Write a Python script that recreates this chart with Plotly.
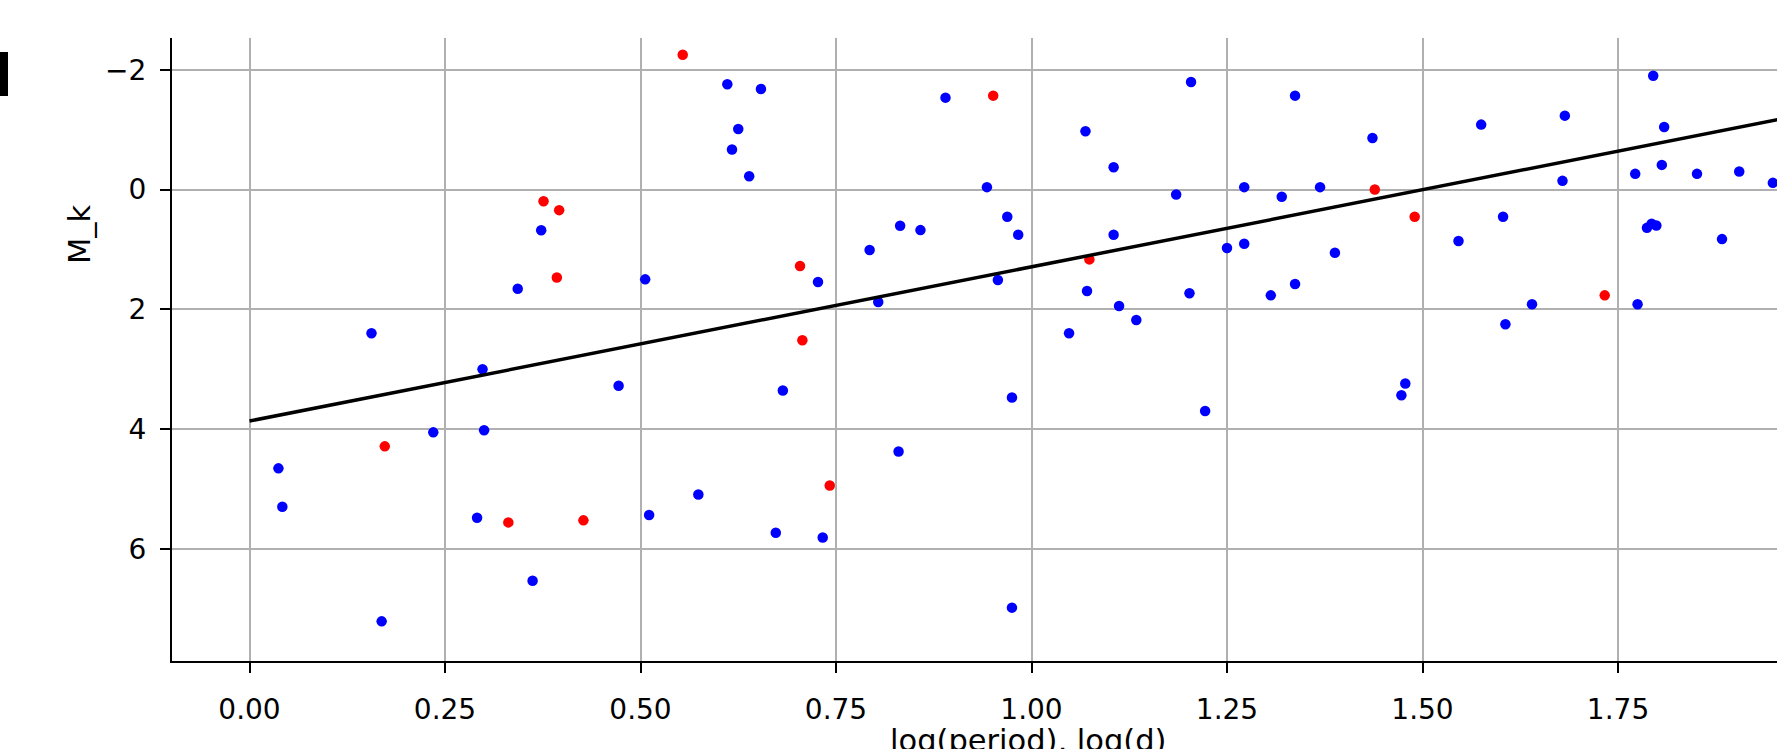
import plotly.graph_objects as go

# ---- data ----
blue_x = [0.156, 0.298, 0.373, 0.343, 0.037, 0.042, 0.235, 0.300, 0.291, 0.362, 0.169,
          0.611, 0.654, 0.625, 0.617, 0.639, 0.890, 1.069, 1.105, 1.185, 1.204, 0.943,
          0.969, 0.983, 0.832, 0.858, 0.793, 0.727, 0.506, 0.957, 1.105, 1.071, 1.112,
          1.134, 1.048, 0.804, 1.202,
          0.472, 0.682, 0.975, 0.830, 0.574, 0.511, 0.673, 0.733, 0.975,
          1.337, 1.436, 1.575, 1.682, 1.795, 1.809, 1.772, 1.806, 1.851, 1.905, 1.948,
          1.679, 1.272, 1.320, 1.369, 1.603, 1.787, 1.793, 1.799, 1.546, 1.883, 1.250,
          1.272, 1.388, 1.306, 1.337, 1.775, 1.640, 1.606,
          1.222, 1.478, 1.473]
blue_y = [2.40, 3.00, 0.679, 1.658, 4.655, 5.295, 4.054, 4.020, 5.479, 6.530, 7.209,
          -1.756, -1.678, -1.011, -0.667, -0.222, -1.533, -0.972, -0.372, 0.083, -1.794, -0.039,
          0.456, 0.756, 0.606, 0.678, 1.011, 1.544, 1.500, 1.511, 0.756, 1.694, 1.944,
          2.178, 2.400, 1.878, 1.733,
          3.277, 3.356, 3.473, 4.375, 5.092, 5.434, 5.731, 5.810, 6.980,
          -1.567, -0.861, -1.083, -1.233, -1.900, -1.044, -0.261, -0.411, -0.261, -0.300, -0.111,
          -0.144, -0.039, 0.122, -0.039, 0.456, 0.640, 0.570, 0.600, 0.861, 0.828, 0.978,
          0.906, 1.056, 1.767, 1.578, 1.917, 1.917, 2.250,
          3.697, 3.238, 3.434]

red_x = [0.376, 0.396, 0.393, 0.173, 0.331, 0.427, 0.554, 0.951, 0.704, 1.074,
         0.707, 0.742, 1.439, 1.490, 1.733]
red_y = [0.195, 0.345, 1.469, 4.288, 5.557, 5.523, -2.25, -1.567, 1.278, 1.167,
         2.517, 4.941, 0.000, 0.456, 1.767]

fit_intercept = 3.865
fit_slope = -2.574
fit_x = [0.0, 2.05]
fit_y = [fit_intercept + fit_slope * v for v in fit_x]

x_ticks = [0.0, 0.25, 0.5, 0.75, 1.0, 1.25, 1.5, 1.75]
y_ticks = [-2, 0, 2, 4, 6]
y_tick_text = ["\u22122", "0", "2", "4", "6"]

FONT = "DejaVu Sans"
FS = 28          # tick labels
FS_LABEL = 30.5  # axis titles

# body margin is removed below, so figure coords == page coords
W, H = 1777, 749
ML, MT = 172, 38
PLOT_RIGHT, PLOT_BOTTOM = 1777, 661
MR, MB = W - PLOT_RIGHT, H - PLOT_BOTTOM
PW = PLOT_RIGHT - ML
PH = PLOT_BOTTOM - MT


def px_x(p):
    return (p - ML) / PW


def px_y(p):
    return (PLOT_BOTTOM - p) / PH


fig = go.Figure()
fig.add_trace(go.Scatter(x=blue_x, y=blue_y, mode="markers",
                         marker=dict(color="#0000ff", size=10.5, line=dict(width=0)),
                         showlegend=False))
fig.add_trace(go.Scatter(x=red_x, y=red_y, mode="markers",
                         marker=dict(color="#ff0000", size=10.5, line=dict(width=0)),
                         showlegend=False))
fig.add_trace(go.Scatter(x=fit_x, y=fit_y, mode="lines",
                         line=dict(color="black", width=3.5),
                         showlegend=False))

fig.update_layout(
    width=W, height=H, autosize=False,
    margin=dict(l=ML, r=MR, t=MT, b=MB, pad=0),
    plot_bgcolor="white", paper_bgcolor="white",
    font=dict(family=FONT, size=FS, color="black"),
    xaxis=dict(range=[-0.0991, 1.9533], tickvals=x_ticks, tickformat=".2f",
               showgrid=True, gridcolor="#b0b0b0", gridwidth=2,
               showline=True, linecolor="black", linewidth=2,
               ticks="outside", ticklen=10, tickwidth=2, tickcolor="black",
               zeroline=False, ticklabelstandoff=12),
    yaxis=dict(range=[7.871, -2.529], tickvals=y_ticks, ticktext=y_tick_text,
               showgrid=True, gridcolor="#b0b0b0", gridwidth=2,
               showline=True, linecolor="black", linewidth=2,
               ticks="outside", ticklen=10, tickwidth=2, tickcolor="black",
               zeroline=False, ticklabelstandoff=8),
    annotations=[
        dict(text="M_k", xref="paper", yref="paper", x=px_x(79), y=px_y(234),
             textangle=-90, showarrow=False, xanchor="center", yanchor="middle",
             font=dict(family=FONT, size=FS_LABEL, color="black")),
        dict(text="log(period), log(d)", xref="paper", yref="paper",
             x=px_x(1028), y=px_y(740), showarrow=False,
             xanchor="center", yanchor="middle",
             font=dict(family=FONT, size=FS_LABEL, color="black")),
        dict(text="2.00", xref="paper", yref="paper",
             x=px_x(1808), y=px_y(697), showarrow=False,
             xanchor="center", yanchor="middle",
             font=dict(family=FONT, size=FS, color="black")),
    ],
    shapes=[
        dict(type="rect", xref="paper", yref="paper",
             x0=px_x(0), x1=px_x(8), y0=px_y(96), y1=px_y(52),
             fillcolor="black", line=dict(width=0)),
    ],
)

fig.write_html(
    "out.html",
    config={"displayModeBar": False},
    post_script="document.body.style.margin='0px';document.body.style.overflow='hidden';",
)
